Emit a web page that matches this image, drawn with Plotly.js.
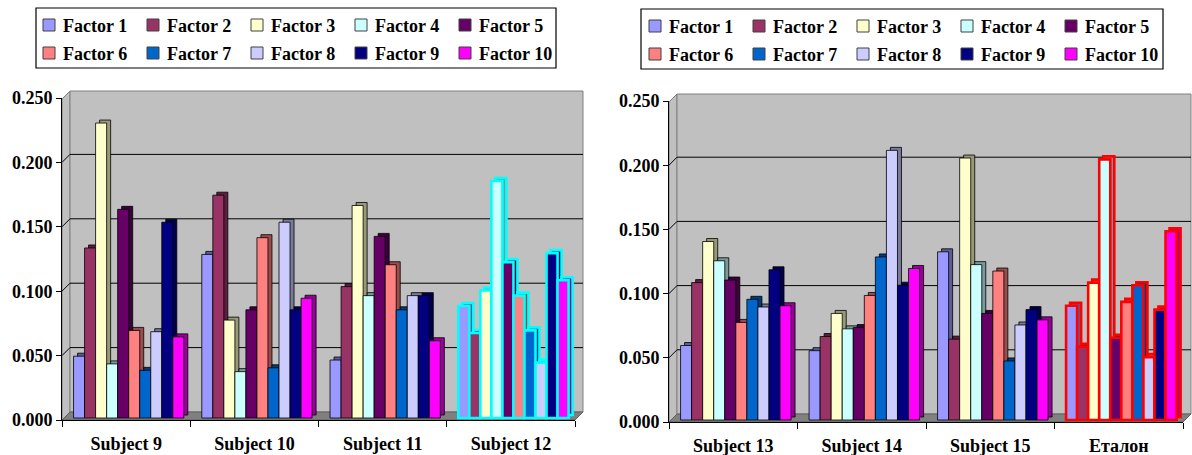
<!DOCTYPE html>
<html>
<head>
<meta charset="utf-8">
<script src="https://cdn.plot.ly/plotly-3.0.1.min.js"></script>
<style>
  html, body { margin: 0; padding: 0; background: #ffffff; }
  #chart { width: 1192px; height: 455px; }
</style>
</head>
<body>
<div id="chart"></div>
<script>
// Factor names and subjects
const factorNames = ['Factor 1', 'Factor 2', 'Factor 3', 'Factor 4', 'Factor 5',
                     'Factor 6', 'Factor 7', 'Factor 8', 'Factor 9', 'Factor 10'];
const leftSubjects = ['Subject 9', 'Subject 10', 'Subject 11', 'Subject 12'];
const rightSubjects = ['Subject 13', 'Subject 14', 'Subject 15', 'Еталон'];

// Factor weights per subject (Factor 1 .. Factor 10)
const subject9  = [0.048, 0.132, 0.229, 0.042, 0.162, 0.068, 0.037, 0.067, 0.152, 0.063];
const subject10 = [0.127, 0.173, 0.076, 0.036, 0.084, 0.140, 0.039, 0.152, 0.084, 0.093];
const subject11 = [0.045, 0.102, 0.165, 0.095, 0.141, 0.119, 0.084, 0.095, 0.095, 0.060];
const subject12 = [0.087, 0.066, 0.099, 0.184, 0.121, 0.095, 0.068, 0.043, 0.128, 0.107];
const subject13 = [0.058, 0.107, 0.139, 0.124, 0.109, 0.076, 0.094, 0.088, 0.117, 0.089];
const subject14 = [0.054, 0.065, 0.083, 0.071, 0.072, 0.097, 0.127, 0.210, 0.105, 0.118];
const subject15 = [0.131, 0.063, 0.204, 0.121, 0.083, 0.116, 0.046, 0.074, 0.086, 0.078];
const etalon    = [0.089, 0.057, 0.107, 0.203, 0.064, 0.092, 0.105, 0.049, 0.086, 0.147];

// Value axis ticks
const yTicks = [0, 0.05, 0.10, 0.15, 0.20, 0.25];

// Series palette: front faces and darker side faces
const factorColors = ['#9999FF', '#993366', '#FFFFCC', '#CCFFFF', '#660066',
                      '#FF8080', '#0066CC', '#CCCCFF', '#000080', '#FF00FF'];
const sideColors   = ['#5C5C99', '#5C1F3D', '#99997A', '#7A9999', '#3D003D',
                      '#994D4D', '#003D7A', '#7A7A99', '#00004D', '#990099'];

const W = 1192, H = 455;
const px = x => x / W;
const py = y => 1 - y / H;
const FONT = { family: 'Liberation Serif, Times New Roman, serif', size: 18, color: '#000000', weight: 'bold' };

const panels = [
  { xa: 'x', ya: 'y', cats: leftSubjects,
    rows: [subject9, subject10, subject11, subject12], highlight: '#00FFFF',
    frame: { l: 62, r: 575, t: 98, b: 420 },
    legend: { l: 36, r: 556, t: 8, b: 68, sq: 43, tx: 61, rows: [25, 53] } },
  { xa: 'x2', ya: 'y2', cats: rightSubjects,
    rows: [subject13, subject14, subject15, etalon], highlight: '#FF0000',
    frame: { l: 669, r: 1183, t: 101, b: 422 },
    legend: { l: 641, r: 1163, t: 9, b: 69, sq: 649, tx: 667, rows: [26, 54] } }
];

const BAR_W = 0.086;      // bar width in category units
const FIRST = -0.41;      // offset of the first bar from the category centre
const DEPTH = 8;          // wall depth, px
const SIDE_X = 4, SIDE_Y = 3;  // bar side/top face size, px
const LIFT = 2;           // bars stand mid-depth on the floor, px above the front edge

const shadowTraces = [], frontTraces = [], shapes = [], annotations = [];
const layout = {
  width: W, height: H,
  margin: { l: 0, r: 0, t: 0, b: 0 },
  paper_bgcolor: '#ffffff', plot_bgcolor: 'rgba(0,0,0,0)',
  showlegend: false, barmode: 'overlay',
  font: FONT
};

panels.forEach((p, pi) => {
  const f = p.frame;
  const catPx = (f.r - f.l) / p.cats.length;
  const unitPx = (f.b - f.t) / 0.25;
  const dx = SIDE_X / catPx;
  const dy = SIDE_Y / unitPx;
  const lift = LIFT / unitPx;
  const n = p.cats.length;
  const lineColors = p.cats.map((c, i) => i === n - 1 ? p.highlight : '#000000');
  const lineWidths = p.cats.map((c, i) => i === n - 1 ? 2.6 : 0.8);

  factorNames.forEach((name, k) => {
    const vals = p.rows.map(r => r[k]);
    shadowTraces.push({
      type: 'bar', x: p.cats, y: vals, base: lift + dy,
      offset: FIRST + k * BAR_W + dx, width: BAR_W,
      marker: { color: sideColors[k], line: { color: lineColors, width: lineWidths } },
      xaxis: p.xa, yaxis: p.ya, showlegend: false, hoverinfo: 'skip'
    });
    frontTraces.push({
      type: 'bar', name: name, x: p.cats, y: vals, base: lift,
      offset: FIRST + k * BAR_W, width: BAR_W,
      marker: { color: factorColors[k], line: { color: lineColors, width: lineWidths } },
      xaxis: p.xa, yaxis: p.ya, showlegend: false
    });
  });

  const axSuffix = pi === 0 ? '' : '2';
  layout['xaxis' + axSuffix] = {
    domain: [px(f.l), px(f.r)], anchor: p.ya,
    type: 'category', range: [-0.5, n - 0.5],
    showline: true, linecolor: '#000000', linewidth: 1,
    ticks: 'outside', tickson: 'boundaries', ticklen: 6, tickcolor: '#000000',
    ticklabelstandoff: 7,
    tickfont: FONT, showgrid: false, zeroline: false, fixedrange: true
  };
  layout['yaxis' + axSuffix] = {
    domain: [py(f.b), py(f.t)], anchor: p.xa,
    range: [0, 0.25], tickvals: yTicks, tickformat: '.3f',
    showline: true, linecolor: '#000000', linewidth: 1,
    ticks: 'outside', ticklen: 5, tickcolor: '#000000',
    tickfont: FONT, showgrid: false, zeroline: false, fixedrange: true
  };

  // Walls and floor of the 3-D frame
  const wallTop = f.t - 7;
  shapes.push({
    type: 'path', xref: 'paper', yref: 'paper', layer: 'below',
    path: `M${px(f.l)},${py(f.b)} L${px(f.l + DEPTH)},${py(f.b - DEPTH)} L${px(f.l + DEPTH)},${py(wallTop)} L${px(f.l)},${py(wallTop + DEPTH)} Z`,
    fillcolor: '#C0C0C0', line: { color: '#808080', width: 1 }
  });
  shapes.push({
    type: 'rect', xref: 'paper', yref: 'paper', layer: 'below',
    x0: px(f.l + DEPTH), x1: px(f.r + DEPTH), y0: py(f.b - DEPTH), y1: py(wallTop),
    fillcolor: '#C0C0C0', line: { color: '#808080', width: 1 }
  });
  shapes.push({
    type: 'path', xref: 'paper', yref: 'paper', layer: 'below',
    path: `M${px(f.l)},${py(f.b)} L${px(f.l + DEPTH)},${py(f.b - DEPTH)} L${px(f.r + DEPTH)},${py(f.b - DEPTH)} L${px(f.r)},${py(f.b)} Z`,
    fillcolor: '#808080', line: { color: '#606060', width: 1 }
  });
  // Gridlines on the side and back walls
  yTicks.slice(1, -1).forEach(v => {
    const yv = f.b - v * unitPx;
    shapes.push({
      type: 'path', xref: 'paper', yref: 'paper', layer: 'below',
      path: `M${px(f.l)},${py(yv)} L${px(f.l + DEPTH)},${py(yv - DEPTH)} L${px(f.r + DEPTH)},${py(yv - DEPTH)}`,
      line: { color: '#000000', width: 1 }
    });
  });

  // Legend box with two rows of five entries
  const L = p.legend;
  shapes.push({
    type: 'rect', xref: 'paper', yref: 'paper', layer: 'above',
    x0: px(L.l), x1: px(L.r), y0: py(L.b), y1: py(L.t),
    fillcolor: 'rgba(0,0,0,0)', line: { color: '#000000', width: 1.2 }
  });
  factorNames.forEach((name, k) => {
    const row = Math.floor(k / 5), col = k % 5;
    const cy = L.rows[row];
    const sx = L.sq + col * 104;
    shapes.push({
      type: 'rect', xref: 'paper', yref: 'paper', layer: 'above',
      x0: px(sx), x1: px(sx + 12), y0: py(cy + 6), y1: py(cy - 6),
      fillcolor: factorColors[k], line: { color: '#404040', width: 1 }
    });
    annotations.push({
      xref: 'paper', yref: 'paper', x: px(L.tx + col * 104), y: py(cy + 1),
      xanchor: 'left', yanchor: 'middle', showarrow: false,
      text: name, font: FONT
    });
  });
});

layout.shapes = shapes;
layout.annotations = annotations;

Plotly.newPlot('chart', shadowTraces.concat(frontTraces), layout,
  { staticPlot: true, displayModeBar: false });
</script>
</body>
</html>
